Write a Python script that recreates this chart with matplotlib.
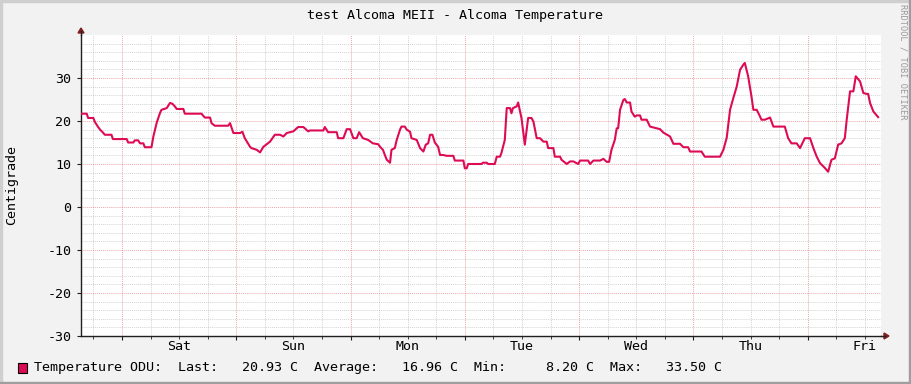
import matplotlib
matplotlib.use('Agg')
import matplotlib.pyplot as plt
from matplotlib.patches import Rectangle, Polygon
from matplotlib.lines import Line2D

# hours since Saturday 00:00
hours = [-8.6, -7.4, -7.1, -6.0, -5.7, -5.0, -4.6, -3.9, -3.6, -2.2, -1.9, 1.0, 1.3, 2.4, 2.7,
         3.4, 3.8, 4.5, 4.8, 6.2, 6.6, 7.3, 8.0, 8.3, 9.4, 10.1, 10.6, 11.1, 11.5, 12.9,
         13.2, 16.7, 17.4, 18.5, 18.8, 19.5, 22.3, 22.7, 23.4, 24.8, 25.3, 25.8, 26.9, 27.2,
         28.3, 29.0, 29.7, 31.1, 32.1, 33.2, 33.9, 34.6, 36.0, 37.0, 38.1, 39.1, 39.5, 42.3,
         42.6, 43.3, 45.1, 45.4, 46.5, 47.2, 47.9, 48.6, 49.3, 49.8, 50.6, 51.7, 52.7, 53.8,
         54.2, 54.8, 55.6, 56.3, 56.6, 57.3, 57.7, 58.4, 58.7, 59.4, 59.8, 60.5, 60.8, 61.9,
         62.6, 63.3, 63.8, 64.3, 64.7, 65.2, 65.7, 66.4, 66.8, 67.4, 68.2, 69.6, 69.9, 71.7,
         72.0, 72.4, 72.7, 75.5, 75.8, 76.6, 76.9, 78.3, 78.7, 79.4, 79.7, 80.4, 80.8, 81.5,
         81.8, 82.1, 82.9, 83.2, 83.9, 84.3, 84.6, 85.3, 86.0, 86.4, 87.1, 87.8, 88.5, 89.2,
         89.5, 90.6, 90.9, 92.0, 92.3, 93.4, 94.1, 94.8, 95.8, 96.2, 97.9, 98.3, 99.0, 100.4,
         101.1, 101.8, 102.3, 102.8, 103.5, 103.9, 104.2, 104.6, 105.3, 105.6, 106.0, 106.7,
         107.0, 107.7, 108.1, 108.8, 109.1, 110.2, 110.9, 112.3, 113.0, 113.7, 115.1, 115.8,
         117.2, 117.9, 118.9, 119.3, 121.7, 122.4, 125.6, 126.3, 127.0, 127.7, 128.4, 129.1,
         129.8, 130.5, 130.8, 131.5, 132.2, 132.6, 133.3, 133.8, 134.3, 135.0, 136.1, 136.8,
         139.2, 139.9, 140.6, 141.7, 142.4, 143.4, 144.5, 145.2, 145.9, 146.6, 147.6, 148.3,
         149.0, 149.7, 150.4, 151.1, 151.8, 152.2, 152.9, 153.6, 154.1, 155.0, 155.7, 156.4,
         156.7, 157.1, 157.8, 158.8]
temp = [21.7, 21.7, 20.7, 20.7, 19.8, 18.6, 18.0, 17.2, 16.8, 16.8, 15.8, 15.8, 15.0, 15.0, 15.5,
        15.5, 14.8, 14.8, 13.9, 13.9, 16.4, 19.6, 21.9, 22.6, 23.0, 24.2, 24.0, 23.4, 22.8, 22.8,
        21.7, 21.7, 20.8, 20.8, 19.5, 18.9, 18.9, 19.5, 17.2, 17.2, 17.5, 16.0, 14.0, 13.7,
        13.3, 12.7, 14.0, 15.2, 16.8, 16.8, 16.4, 17.2, 17.6, 18.6, 18.6, 17.6, 17.8, 17.8,
        18.6, 17.4, 17.4, 16.0, 16.0, 18.1, 18.1, 16.0, 16.0, 17.4, 16.0, 15.6, 14.8, 14.6,
        14.0, 13.3, 11.0, 10.3, 13.3, 13.7, 15.6, 18.0, 18.7, 18.7, 18.0, 17.5, 16.0, 15.6,
        13.7, 12.9, 14.5, 14.8, 16.8, 16.8, 15.0, 14.0, 12.1, 12.1, 11.9, 11.9, 10.8, 10.8,
        9.0, 9.0, 10.0, 10.0, 10.3, 10.3, 10.0, 10.0, 11.7, 11.7, 12.6, 15.6, 23.0, 23.0,
        21.8, 23.0, 23.4, 24.3, 20.7, 17.2, 14.5, 20.7, 20.7, 19.9, 16.0, 16.0, 15.2, 15.2,
        13.7, 13.7, 11.7, 11.7, 11.0, 10.0, 10.6, 10.6, 10.0, 10.8, 10.8, 10.0, 10.8, 10.8,
        11.2, 10.5, 10.5, 13.3, 15.6, 18.3, 18.3, 22.6, 24.9, 25.1, 24.3, 24.3,
        22.2, 21.0, 21.3, 21.3, 20.3, 20.3, 18.7, 18.3, 18.1, 17.3, 16.4, 14.7,
        14.7, 13.9, 13.9, 12.9, 12.9, 11.7, 11.7, 13.3, 16.1, 22.6, 25.4, 28.0,
        31.9, 33.1, 33.5, 30.4, 25.7, 22.6, 22.6, 21.5, 20.3, 20.3, 20.8, 18.7,
        18.7, 16.0, 14.8, 14.8, 13.7, 16.0, 16.0, 13.7, 11.7, 10.2, 9.1, 8.2,
        11.0, 11.3, 14.5, 14.8, 16.0, 20.3, 26.9, 26.9, 30.4, 29.2, 26.5, 26.3,
        26.3, 24.2, 22.2, 20.9]

day_names = ['Sat', 'Sun', 'Mon', 'Tue', 'Wed', 'Thu', 'Fri']
day_noons = [12, 36, 60, 84, 108, 132, 156]
midnights = [0, 24, 48, 72, 96, 120, 144]
y_major = [-30, -20, -10, 0, 10, 20, 30]

last_val, avg_val, min_val, max_val = 20.93, 16.96, 8.20, 33.50

W, H = 911, 384
line_col = '#DD0B55'
mono = 'DejaVu Sans Mono'


def fx(x):
    return x / W


def fy(y):
    return 1 - y / H


fig = plt.figure(figsize=(W / 100, H / 100), dpi=100, facecolor='#F2F2F2')

# canvas shading like rrdtool
fig.patches.append(Rectangle((0, fy(2)), 1, 2 / H, transform=fig.transFigure, color='#CFCFCF', zorder=0))
fig.patches.append(Rectangle((0, 0), 2 / W, 1, transform=fig.transFigure, color='#CFCFCF', zorder=0))
fig.patches.append(Rectangle((0, 0), 1, 2 / H, transform=fig.transFigure, color='#9E9E9E', zorder=1))
fig.patches.append(Rectangle((fx(W - 2), 0), 2 / W, 1, transform=fig.transFigure, color='#9E9E9E', zorder=1))

ax = fig.add_axes([fx(81), fy(336), 800 / W, 301 / H])
ax.set_facecolor('white')
ax.plot(hours, temp, color=line_col, lw=1.5, zorder=3)

ax.set_xlim(-8.6, 159.4)
ax.set_ylim(-30, 40)

ax.set_xticks(midnights)
ax.set_xticks([h for h in range(-6, 160, 6) if h % 24 != 0], minor=True)
ax.set_xticklabels([])
ax.set_yticks(y_major)
ax.set_yticks([v for v in range(-28, 40, 2) if v % 10 != 0], minor=True)
ax.set_yticklabels([str(v) for v in y_major], fontsize=9.6, family=mono)

ax.set_axisbelow(True)
ax.grid(which='minor', color='#8F8F8F', alpha=0.38, linestyle=(0, (1, 1)), linewidth=0.7)
ax.grid(which='major', color='#DE5050', alpha=0.5, linestyle=(0, (1, 1)), linewidth=0.7)

for s in ['top', 'right']:
    ax.spines[s].set_visible(False)
for s in ['left', 'bottom']:
    ax.spines[s].set_color('#1F1F1F')
    ax.spines[s].set_linewidth(1)
ax.tick_params(which='major', length=3, width=0.8, color='#1F1F1F', pad=4)
ax.tick_params(axis='x', which='minor', length=2, width=0.6, color='#1F1F1F')
ax.tick_params(axis='y', which='minor', length=0)

for h, name in zip(day_noons, day_names):
    ax.text(h, -0.035, name, transform=ax.get_xaxis_transform(), ha='center', va='center',
            fontsize=9.6, family=mono)

# axis extensions and arrows
fig.add_artist(Line2D([fx(81), fx(81)], [fy(35), fy(31)], transform=fig.transFigure, color='#1F1F1F', lw=1))
fig.add_artist(Line2D([fx(881), fx(885)], [fy(336), fy(336)], transform=fig.transFigure, color='#1F1F1F', lw=1))
fig.patches.append(Polygon([(fx(78), fy(33)), (fx(84), fy(33)), (fx(81), fy(28))],
                           closed=True, transform=fig.transFigure, color='#801F1F'))
fig.patches.append(Polygon([(fx(884), fy(333)), (fx(884), fy(339)), (fx(889), fy(336))],
                           closed=True, transform=fig.transFigure, color='#801F1F'))

fig.text(fx(455), fy(15), 'test Alcoma MEII - Alcoma Temperature', ha='center', va='center',
         fontsize=9.6, family=mono)
fig.text(fx(12), fy(185), 'Centigrade', rotation=90, ha='center', va='center', fontsize=9.6, family=mono)
fig.text(fx(903), fy(4), 'RRDTOOL / TOBI OETIKER', rotation=-90, ha='center', va='top',
         fontsize=6.2, family=mono, color='#999999')

# legend
fig.patches.append(Rectangle((fx(18), fy(373)), 9 / W, 10 / H, transform=fig.transFigure,
                             facecolor=line_col, edgecolor='black', lw=0.8))
legend_txt = ('Temperature ODU:  Last:   %5.2f C  Average:   %5.2f C  Min:   %6.2f C  Max:   %5.2f C'
              % (last_val, avg_val, min_val, max_val))
fig.text(fx(34), fy(368), legend_txt, ha='left', va='center', fontsize=9.6, family=mono)

fig.savefig('out.png', dpi=100, facecolor=fig.get_facecolor())
